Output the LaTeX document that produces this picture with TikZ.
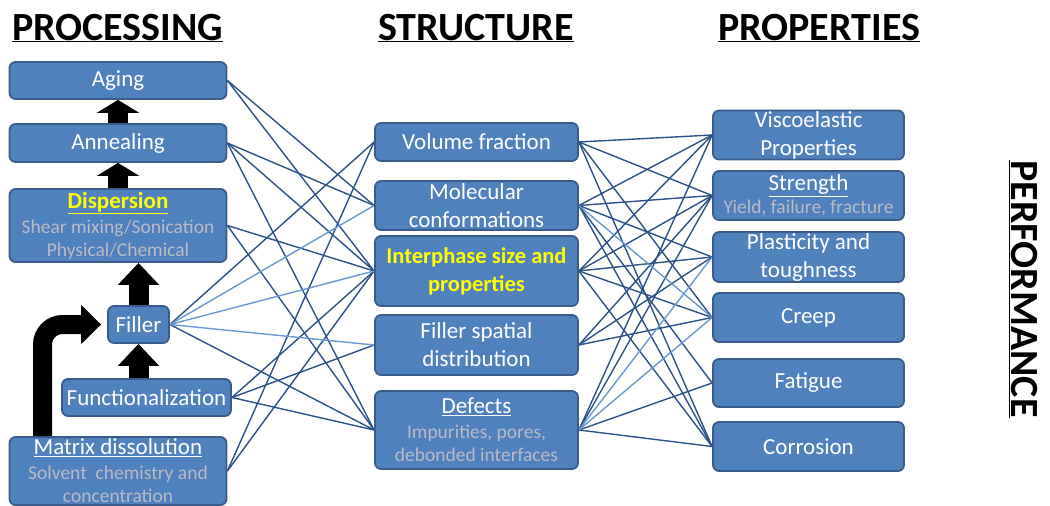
\documentclass[tikz,border=0pt]{standalone}
\usepackage{fontspec}
\setmainfont{Carlito}
\usetikzlibrary{arrows.meta,backgrounds}
\definecolor{boxfill}{RGB}{79,129,189}
\definecolor{boxdraw}{RGB}{56,93,138}
\definecolor{subgray}{RGB}{185,188,195}
\definecolor{darkline}{RGB}{44,82,138}
\definecolor{lightline}{RGB}{105,152,210}
\definecolor{hiyellow}{RGB}{255,255,0}
\newcommand{\subln}[1]{\textcolor{subgray}{#1}}
\newcommand{\titln}[1]{{\fontsize{23}{23}\selectfont #1}}
\begin{document}
\begin{tikzpicture}[x=1pt,y=-1pt,
  box/.style={draw=boxdraw, line width=1.8pt, fill=boxfill, rounded corners=6pt,
    text=white, inner sep=0pt, align=center, font=\fontsize{23}{28}\selectfont},
  subbox/.style={box, font=\fontsize{19.5}{23}\selectfont},
  hdr/.style={font=\fontsize{40}{48}\selectfont\bfseries, inner sep=0pt},
  blkup/.style={line width=20pt, black, -{Triangle[length=13pt,width=42pt]}},
  blklow/.style={line width=20pt, black, -{Triangle[length=22pt,width=40pt]}},
  blkbend/.style={line width=19pt, black, rounded corners=20pt, -{Triangle[length=20pt,width=38pt]}},
  dk/.style={draw=darkline, line width=1.4pt},
  lt/.style={draw=lightline, line width=1.4pt}]
\useasboundingbox (0,0) rectangle (1050,506);

% headers
\node[hdr, anchor=base west] (hproc) at (12,40) {\underline{PROCESSING}};
\node[hdr, anchor=base west] (hstruct) at (378,40) {\underline{STRUCTURE}};
\node[hdr, anchor=base west] (hprop) at (718,40) {\underline{PROPERTIES}};
\node[hdr, rotate=-90] (hperf) at (1023,289) {\underline{PERFORMANCE}};

% processing
\node[box, minimum width=217, minimum height=37] (aging) at (118,80.5) {Aging};
\node[box, minimum width=217, minimum height=38] (annealing) at (118,143) {Annealing};
\node[subbox, minimum width=217, minimum height=73] (dispersion) at (118,225.5)
  {\titln{\bfseries\textcolor{hiyellow}{\underline{Dispersion}}}\\[2pt]\subln{Shear mixing/Sonication}\\\subln{Physical/Chemical}};
\node[box, minimum width=61, minimum height=37] (filler) at (138.5,324.5) {Filler};
\node[box, minimum width=169, minimum height=37] (func) at (146.5,397.5) {Functionalization};
\node[subbox, minimum width=217, minimum height=68] (matrix) at (118,471)
  {\titln{\underline{Matrix dissolution}}\\[2pt]\subln{Solvent\ \ chemistry and}\\\subln{concentration}};

% structure
\node[box, minimum width=203, minimum height=38] (vf) at (476.5,142) {Volume fraction};
\node[box, minimum width=203, minimum height=49] (mc) at (476.5,205.5) {Molecular\\conformations};
\node[box, minimum width=203, minimum height=70, text=hiyellow, font=\fontsize{22.5}{28}\selectfont\bfseries] (ip) at (476.5,271) {Interphase size and\\properties};
\node[box, minimum width=203, minimum height=60] (fs) at (476.5,345) {Filler spatial\\distribution};
\node[subbox, minimum width=203, minimum height=78] (df) at (476.5,430)
  {\titln{\underline{Defects}}\\[2pt]\subln{Impurities, pores,}\\\subln{debonded interfaces}};

% properties
\node[box, minimum width=191, minimum height=49] (ve) at (808.5,135) {Viscoelastic\\Properties};
\node[subbox, minimum width=191, minimum height=49] (st) at (808.5,195.5)
  {\titln{\underline{Strength}}\\\subln{Yield, failure, fracture}};
\node[box, minimum width=191, minimum height=50] (pt) at (808.5,257) {Plasticity and\\toughness};
\node[box, minimum width=191, minimum height=49] (cr) at (808.5,317.5) {Creep};
\node[box, minimum width=191, minimum height=48] (fa) at (808.5,383) {Fatigue};
\node[box, minimum width=191, minimum height=49] (co) at (808.5,446.5) {Corrosion};

% block arrows
\draw[blkup] (annealing.north) -- (aging.south);
\draw[blkup] (dispersion.north) -- (annealing.south);
\draw[blklow] (filler.north) -- (filler.north |- dispersion.south);
\draw[blklow] (filler.south |- func.north) -- (filler.south);
\coordinate (bx) at (42.5,0);
\draw[blkbend, shorten >=6pt] (matrix.north -| bx) |- (filler.west);

% connectors
\begin{scope}[on background layer]
\foreach \a/\b in {aging/mc, aging/ip, annealing/mc, annealing/ip, annealing/df,
  dispersion/ip, dispersion/df, filler/vf, filler/df,
  func/ip, func/fs, func/df, matrix/vf, matrix/ip}
  \draw[dk] (\a.east) -- (\b.west);
\foreach \a/\b in {filler/mc, filler/ip, filler/fs}
  \draw[lt] (\a.east) -- (\b.west);
\foreach \a/\b in {vf/ve, vf/st, vf/cr, vf/co,
  mc/ve, mc/st, mc/pt, mc/fa, mc/co,
  ip/ve, ip/st, ip/pt, ip/cr, ip/co,
  fs/st, fs/pt, fs/cr,
  df/ve, df/st, df/fa, df/co}
  \draw[dk] (\a.east) -- (\b.west);
\foreach \a/\b in {mc/cr, df/pt, df/cr}
  \draw[lt] (\a.east) -- (\b.west);
\end{scope}
\end{tikzpicture}
\end{document}
